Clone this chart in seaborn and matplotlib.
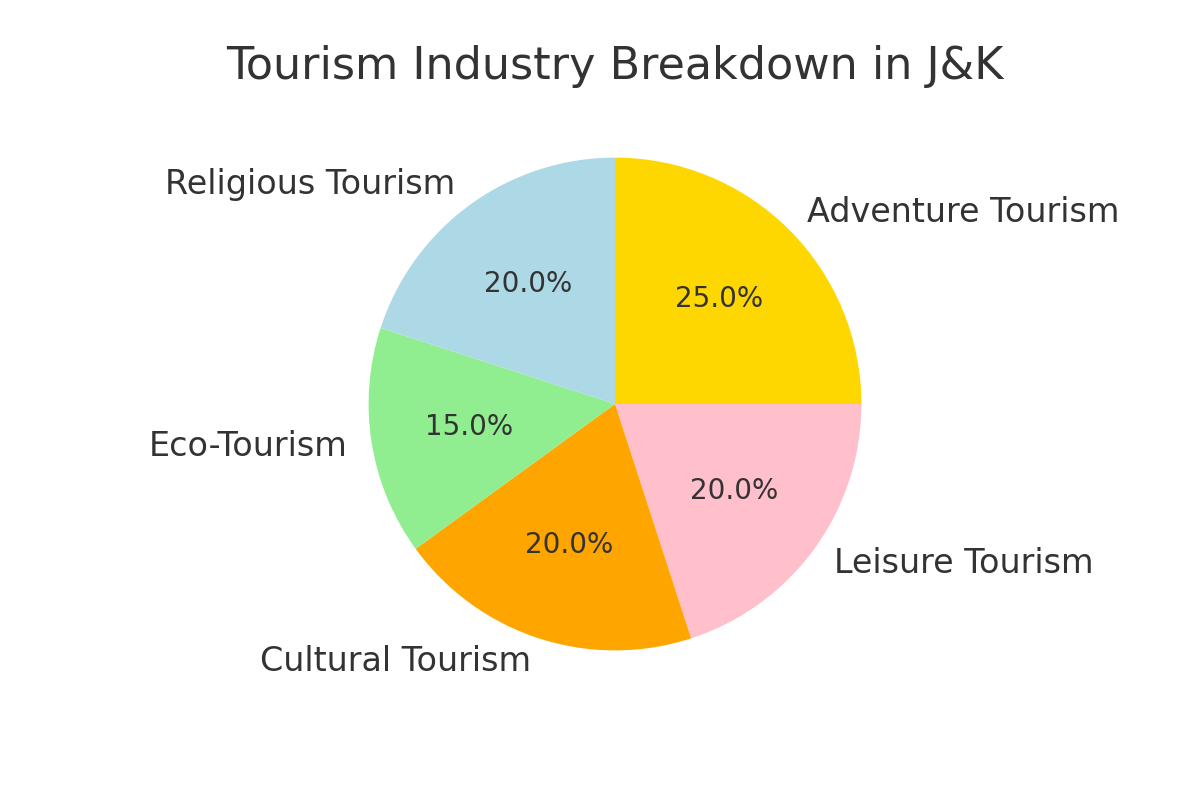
import matplotlib
matplotlib.use("Agg")
import matplotlib.pyplot as plt
import seaborn as sns

# --- data ---
categories = ['Adventure Tourism', 'Leisure Tourism', 'Cultural Tourism',
              'Eco-Tourism', 'Religious Tourism']
shares = [25, 20, 20, 15, 20]
colors = ['gold', 'pink', 'orange', 'lightgreen', 'lightblue']

sns.set_style("white")
plt.rcParams['font.family'] = ['DejaVu Sans']
TEXT = '#333333'

fig, ax = plt.subplots(figsize=(12, 8), dpi=100)
wedges, texts, autotexts = ax.pie(
    shares, labels=categories, colors=colors, autopct='%1.1f%%',
    startangle=90, counterclock=False,
    wedgeprops={'edgecolor': 'none', 'linewidth': 0},
    textprops={'fontsize': 24, 'color': TEXT})
for t in autotexts:
    t.set_fontsize(20)
    t.set_color(TEXT)
ax.set_title('Tourism Industry Breakdown in J&K', fontsize=32, color=TEXT, pad=12)

fig.savefig('out.png', dpi=100)
